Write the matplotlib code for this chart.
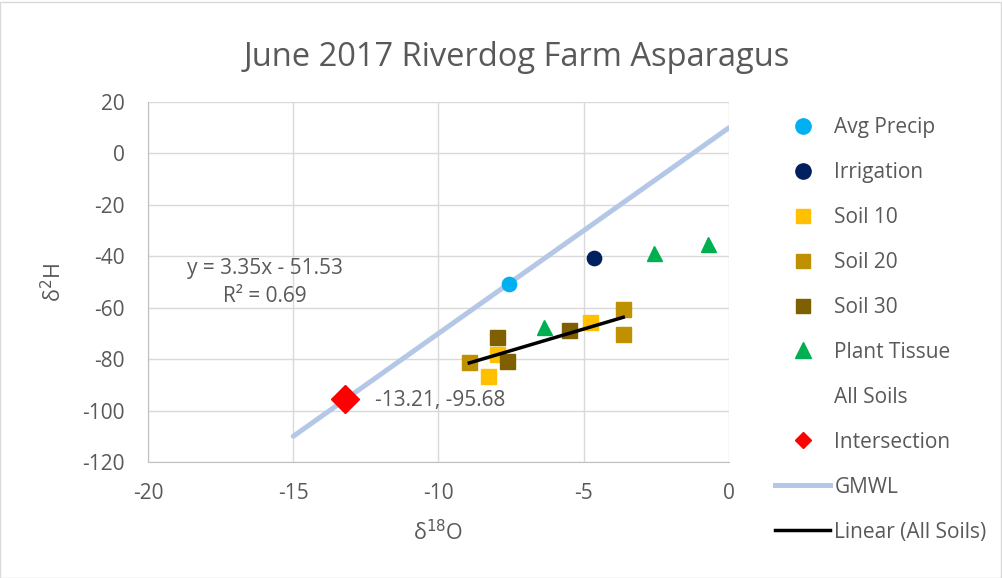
import numpy as np
import matplotlib.pyplot as plt
from matplotlib.lines import Line2D
from matplotlib.patches import Rectangle

plt.rcParams['font.family'] = ['Open Sans', 'DejaVu Sans']
plt.rcParams['axes.unicode_minus'] = False

# data (d18O, d2H)
precip_x = [-7.57]
precip_y = [-50.8]
irrig_x = [-4.65]
irrig_y = [-40.7]
soil10_x = [-8.31, -7.99, -4.78]
soil10_y = [-86.5, -78.0, -65.5]
soil20_x = [-8.94, -3.64, -3.66]
soil20_y = [-81.3, -60.5, -70.4]
soil30_x = [-8.0, -7.65, -5.51]
soil30_y = [-71.3, -80.7, -68.7]
plant_x = [-6.37, -2.58, -0.72]
plant_y = [-67.5, -38.7, -35.2]
gmwl_x = [-15, 0]
inter_x = [-13.21]
inter_y = [-95.68]

text_col = '#595959'
grid_col = '#d9d9d9'
fs = 15

fig = plt.figure(figsize=(10.03, 5.78), dpi=100)
ax = fig.add_axes([148 / 1003, 1 - 462 / 578, 581 / 1003, 360 / 578])

# GMWL
gx = np.array(gmwl_x)
ax.plot(gx, 8 * gx + 10, color='#b4c7e7', lw=3.6, solid_capstyle='round', zorder=2)

# linear fit of all soils
all_x = np.array(soil10_x + soil20_x + soil30_x)
all_y = np.array(soil10_y + soil20_y + soil30_y)
fx = np.array([all_x.min(), all_x.max()])
ax.plot(fx, 3.35 * fx - 51.53, color='black', lw=2.5, zorder=4)

ax.plot(precip_x, precip_y, 'o', color='#00b0f0', ms=10.3, zorder=3)
ax.plot(irrig_x, irrig_y, 'o', color='#002060', ms=10.3, zorder=3)
ax.plot(soil10_x, soil10_y, 's', color='#ffc000', ms=10.8, zorder=3)
ax.plot(soil20_x, soil20_y, 's', color='#bf9000', ms=10.8, zorder=3)
ax.plot(soil30_x, soil30_y, 's', color='#7f6000', ms=10.8, zorder=3)
ax.plot(plant_x, plant_y, '^', color='#00b050', ms=10.8, zorder=3)
ax.plot(inter_x, inter_y, 'D', color='#ff0000', ms=14.3, zorder=5)

ax.text(-12.19, -95.9, '-13.21, -95.68', fontsize=fs, color=text_col, va='center', ha='left')
ax.text(-15.97, -44.6, 'y = 3.35x - 51.53', fontsize=fs, color=text_col, va='center', ha='center')
ax.text(-15.97, -55.5, 'R² = 0.69', fontsize=fs, color=text_col, va='center', ha='center')

ax.set_xlim(-20, 0)
ax.set_ylim(-120, 20)
ax.set_xticks(np.arange(-20, 1, 5))
ax.set_yticks(np.arange(-120, 21, 20))
ax.grid(True, color=grid_col, lw=1)
ax.set_axisbelow(True)
for side in ['top', 'right']:
    ax.spines[side].set_visible(False)
for side in ['left', 'bottom']:
    ax.spines[side].set_color('#bfbfbf')
ax.tick_params(length=0, labelsize=fs, labelcolor=text_col)
ax.tick_params(axis='x', pad=15)
ax.tick_params(axis='y', pad=17)

ax.set_xlabel('δ$^{18}$O', fontsize=15.5, color=text_col)
ax.set_ylabel('δ$^{2}$H', fontsize=15.5, color=text_col)
ax.xaxis.set_label_coords(0.5, -(520 - 462) / 360)
ax.yaxis.set_label_coords((66 - 148) / 581, 0.5)
fig.text(517 / 1003, 1 - 58 / 578, 'June 2017 Riverdog Farm Asparagus', fontsize=23.5,
         color=text_col, ha='center', va='center')

handles = [
    Line2D([], [], ls='', marker='o', color='#00b0f0', ms=11),
    Line2D([], [], ls='', marker='o', color='#002060', ms=11),
    Line2D([], [], ls='', marker='s', color='#ffc000', ms=10.5),
    Line2D([], [], ls='', marker='s', color='#bf9000', ms=10.5),
    Line2D([], [], ls='', marker='s', color='#7f6000', ms=10.5),
    Line2D([], [], ls='', marker='^', color='#00b050', ms=11),
    Line2D([], [], ls='', marker=''),
    Line2D([], [], ls='', marker='D', color='#ff0000', ms=8),
    Line2D([], [], color='#b4c7e7', lw=3.6),
    Line2D([], [], color='black', lw=2.5),
]
labels = ['Avg Precip', 'Irrigation', 'Soil 10', 'Soil 20', 'Soil 30', 'Plant Tissue',
          'All Soils', 'Intersection', 'GMWL', 'Linear (All Soils)']
leg = fig.legend(handles, labels, loc='upper left', bbox_to_anchor=(775 / 1003, 1 - 117 / 578),
                 frameon=False, fontsize=fs, labelspacing=1.15, handlelength=2.65,
                 handletextpad=0.2, borderaxespad=0, borderpad=0)
for t in leg.get_texts():
    t.set_color(text_col)

fig.add_artist(Rectangle((0.5 / 1003, 0.5 / 578), 1001 / 1003, 576 / 578, transform=fig.transFigure,
                         fill=False, edgecolor=grid_col, lw=1))

fig.savefig('out.png', dpi=100)
